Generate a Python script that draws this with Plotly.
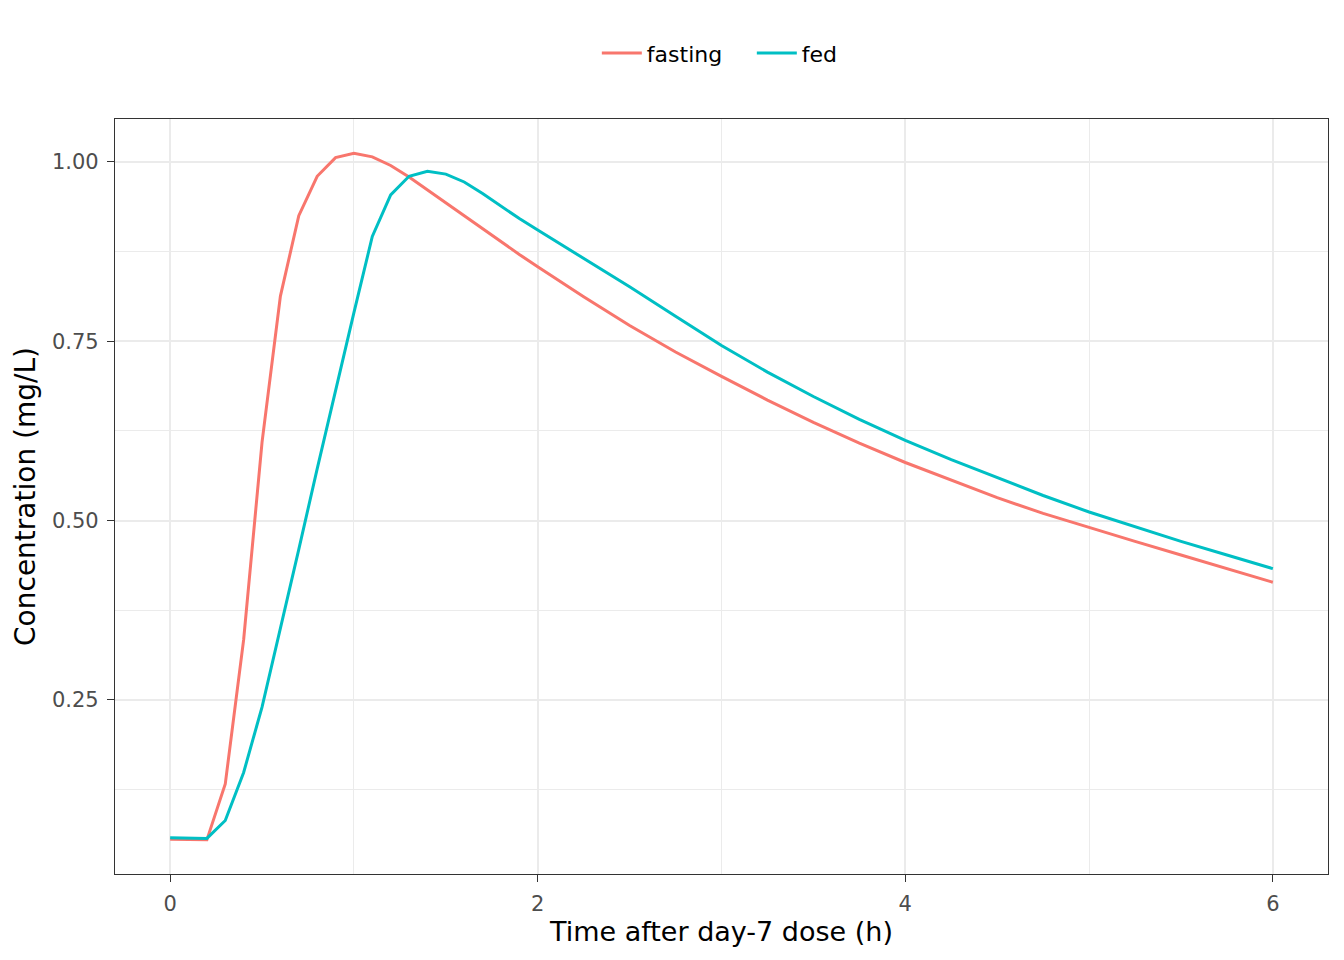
import plotly.graph_objs as go

# time grid (h) and concentrations
time_h = [0.0, 0.1, 0.2, 0.3, 0.4, 0.5, 0.6, 0.7, 0.8, 0.9,
          1.0, 1.1, 1.2, 1.3, 1.4, 1.5, 1.6, 1.7, 1.8, 1.9,
          2.0, 2.25, 2.5, 2.75, 3.0, 3.25, 3.5, 3.75, 4.0,
          4.25, 4.5, 4.75, 5.0, 5.25, 5.5, 5.75, 6.0]

fasting = [0.056, 0.0555, 0.055, 0.133, 0.334, 0.609, 0.813, 0.925, 0.980, 1.006,
           1.012, 1.007, 0.995, 0.979, 0.961, 0.942, 0.924, 0.906, 0.888, 0.871,
           0.854, 0.812, 0.772, 0.735, 0.701, 0.668, 0.637, 0.608, 0.581,
           0.556, 0.532, 0.510, 0.490, 0.471, 0.452, 0.433, 0.414]

fed = [0.058, 0.0575, 0.057, 0.082, 0.149, 0.240, 0.348, 0.460, 0.572, 0.682,
       0.790, 0.896, 0.954, 0.980, 0.987, 0.983, 0.972, 0.956, 0.938, 0.921,
       0.905, 0.866, 0.826, 0.785, 0.744, 0.707, 0.673, 0.641, 0.612,
       0.585, 0.560, 0.535, 0.512, 0.491, 0.471, 0.452, 0.433]

x_ticks = [0, 2, 4, 6]
y_ticks = [0.25, 0.50, 0.75, 1.00]
y_labels = ["0.25", "0.50", "0.75", "1.00"]

data = [
    go.Scatter(x=time_h, y=fasting, mode='lines', name='fasting',
               line=dict(color='#F8766D', width=3)),
    go.Scatter(x=time_h, y=fed, mode='lines', name='fed',
               line=dict(color='#00BFC4', width=3)),
]

axis_common = dict(
    showline=True, mirror=True, linecolor='#333333', linewidth=1.2,
    ticks='outside', ticklen=7, tickcolor='#333333', tickwidth=1.2,
    ticklabelstandoff=4,
    showgrid=True, gridcolor='#EBEBEB', gridwidth=2, zeroline=False,
    tickfont=dict(size=21, color='#4D4D4D'),
)

# page body adds an 8px margin, so the figure is a bit smaller than the window
layout = go.Layout(
    width=1336, height=952,
    paper_bgcolor='white', plot_bgcolor='white',
    font=dict(family='DejaVu Sans', color='black'),
    margin=dict(l=107, r=16, t=111, b=86),
    showlegend=True,
    legend=dict(orientation='h', x=0.525, xanchor='center', y=1.087, yanchor='middle',
                font=dict(size=22, color='black'), itemwidth=40,
                entrywidth=100, entrywidthmode='pixels'),
    xaxis=dict(range=[-0.3, 6.3], tickvals=x_ticks,
               title=dict(text='Time after day-7 dose (h)', font=dict(size=27), standoff=6),
               minor=dict(dtick=1, tick0=0, showgrid=True, gridcolor='#EBEBEB', gridwidth=1),
               **axis_common),
    yaxis=dict(range=[0.0074, 1.0598], tickvals=y_ticks, ticktext=y_labels,
               title=dict(text='Concentration (mg/L)', font=dict(size=28), standoff=8),
               minor=dict(dtick=0.125, tick0=0, showgrid=True, gridcolor='#EBEBEB', gridwidth=1),
               **axis_common),
)

fig = go.Figure(data=data, layout=layout)
fig.write_html("out.html")
